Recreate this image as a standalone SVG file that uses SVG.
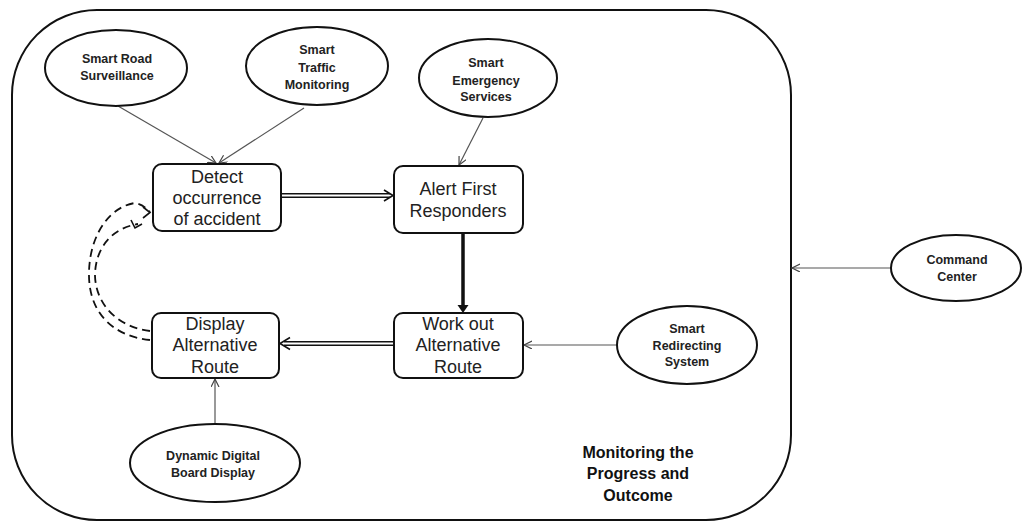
<svg xmlns="http://www.w3.org/2000/svg" width="1022" height="525" viewBox="0 0 1022 525">
<defs>
<style>
.ell{fill:#fff;stroke:#111;stroke-width:2}
.box{fill:#fff;stroke:#111;stroke-width:2}
.et{font-family:"Liberation Sans",Arial,sans-serif;font-weight:bold;font-size:12.5px;fill:#222;text-anchor:middle}
.bt{font-family:"Liberation Sans",Arial,sans-serif;font-size:18px;fill:#222;text-anchor:middle}
.mt{font-family:"Liberation Sans",Arial,sans-serif;font-weight:bold;font-size:16px;fill:#111;text-anchor:middle}
.thin{fill:none;stroke:#555;stroke-width:1.2;marker-end:url(#open)}
.dash{fill:none;stroke:#111;stroke-width:1.8;stroke-dasharray:8 5}
.chev{fill:none;stroke:#111;stroke-width:1.6}
</style>
<marker id="open" markerUnits="userSpaceOnUse" markerWidth="10" markerHeight="10" refX="8" refY="4" orient="auto">
<path d="M0,0 L8,4 L0,8" fill="none" stroke="#444" stroke-width="1.2"/>
</marker>
</defs>
<rect width="1022" height="525" fill="#fff"/>
<g id="container">
<rect x="12" y="10" width="779" height="510" rx="85" ry="85" fill="none" stroke="#111" stroke-width="2"/>
<text class="mt" x="638" y="458">Monitoring the</text>
<text class="mt" x="638" y="479">Progress and</text>
<text class="mt" x="638" y="501">Outcome</text>
</g>
<g id="connectors">
<path class="thin" d="M118,106 L216,163"/>
<path class="thin" d="M304,108 L219,163"/>
<path class="thin" d="M483,118 L459,165"/>
<path class="thin" d="M617,345 L524,345"/>
<path class="thin" d="M215,424 L215,379"/>
<path class="thin" d="M891,268 L792,268"/>
<path d="M282,195.5 L390,195.5" stroke="#111" stroke-width="5" fill="none"/>
<path d="M282,195.5 L390,195.5" stroke="#fff" stroke-width="2" fill="none"/>
<path class="chev" d="M384,190 L393,195.5 L384,201"/>
<path d="M393,343.5 L284,343.5" stroke="#111" stroke-width="5" fill="none"/>
<path d="M393,343.5 L284,343.5" stroke="#fff" stroke-width="2" fill="none"/>
<path class="chev" d="M290,337.5 L280,343.5 L290,349.5" stroke-width="2.2"/>
<path d="M463,233 L463,306" stroke="#111" stroke-width="3.5" fill="none"/>
<polygon points="457.5,305 468.5,305 463,313" fill="#111"/>
<path class="dash" d="M150,340 C112,336 88,312 89,272 C90,232 112,206 135,203 C142,204 146,208 150,212"/>
<path class="chev" d="M143,207 L150,212.5 L143,218"/>
<path class="dash" d="M150,331 C118,327 96,305 95,276 C95,248 112,228 138,224"/>
<path class="chev" d="M131,220 L135,228 L142,224"/>
</g>
<g id="smart-road">
<ellipse class="ell" cx="116" cy="68" rx="71" ry="38"/>
<text class="et" x="117" y="63">Smart Road</text>
<text class="et" x="117" y="80">Surveillance</text>
</g>
<g id="smart-traffic">
<ellipse class="ell" cx="317" cy="66" rx="71" ry="39"/>
<text class="et" x="317" y="54">Smart</text>
<text class="et" x="317" y="71.5">Traffic</text>
<text class="et" x="317" y="89">Monitoring</text>
</g>
<g id="smart-emergency">
<ellipse class="ell" cx="488" cy="78" rx="69" ry="39"/>
<text class="et" x="486" y="67">Smart</text>
<text class="et" x="486" y="84.5">Emergency</text>
<text class="et" x="486" y="101">Services</text>
</g>
<g id="detect">
<rect class="box" x="153" y="164" width="128" height="67" rx="9"/>
<text class="bt" x="217" y="183">Detect</text>
<text class="bt" x="217" y="204">occurrence</text>
<text class="bt" x="217" y="225">of accident</text>
</g>
<g id="alert">
<rect class="box" x="394" y="166" width="129" height="67" rx="9"/>
<text class="bt" x="458" y="195">Alert First</text>
<text class="bt" x="458" y="217">Responders</text>
</g>
<g id="display">
<rect class="box" x="152" y="313" width="127" height="65" rx="9"/>
<text class="bt" x="215" y="330">Display</text>
<text class="bt" x="215" y="351">Alternative</text>
<text class="bt" x="215" y="373">Route</text>
</g>
<g id="workout">
<rect class="box" x="394" y="313" width="129" height="65" rx="9"/>
<text class="bt" x="458" y="330">Work out</text>
<text class="bt" x="458" y="351">Alternative</text>
<text class="bt" x="458" y="373">Route</text>
</g>
<g id="smart-redirecting">
<ellipse class="ell" cx="687" cy="345" rx="70" ry="39"/>
<text class="et" x="687" y="333">Smart</text>
<text class="et" x="687" y="350">Redirecting</text>
<text class="et" x="687" y="366">System</text>
</g>
<g id="command-center">
<ellipse class="ell" cx="956" cy="268" rx="65" ry="33"/>
<text class="et" x="957" y="264">Command</text>
<text class="et" x="957" y="281">Center</text>
</g>
<g id="dynamic-board">
<ellipse class="ell" cx="215" cy="463" rx="85" ry="39"/>
<text class="et" x="213" y="460">Dynamic Digital</text>
<text class="et" x="213" y="477">Board Display</text>
</g>
</svg>
